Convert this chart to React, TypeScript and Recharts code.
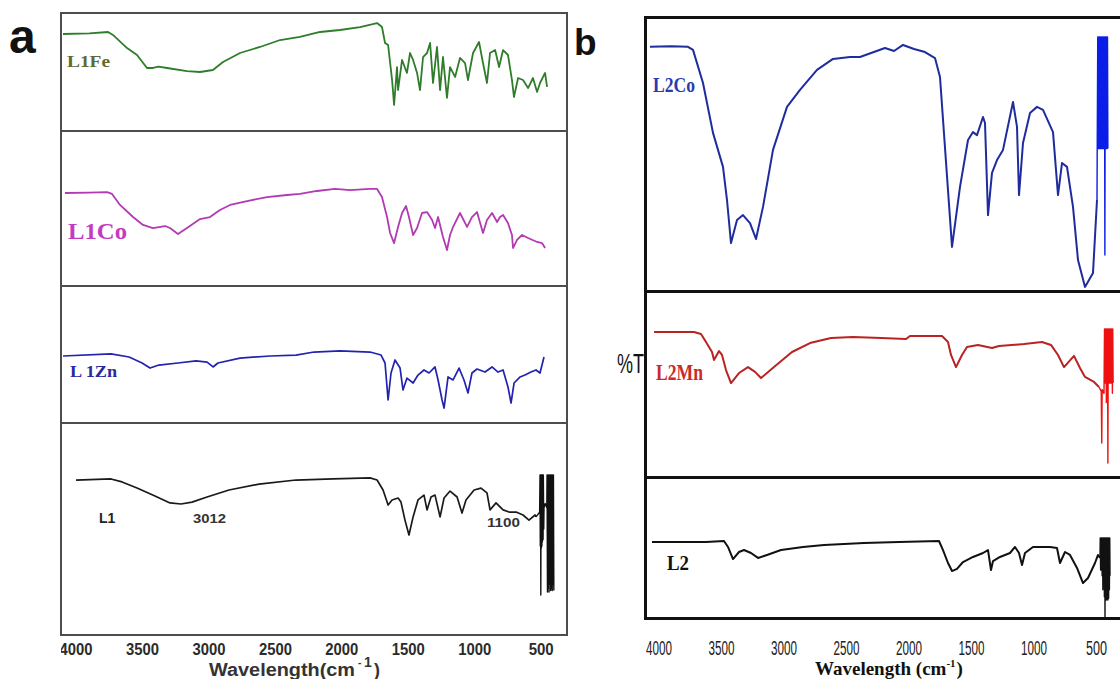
import { LineChart, Line, XAxis, YAxis } from 'recharts';

type Pt = [number, number];

// wavenumber (cm-1), transmittance (relative, 0-100 per sub-panel)
const L1FE: Pt[] = [[4098,82.2],[3900,82.8],[3759,83.9],[3722,81.4],[3616,70.3],[3541,64.4],[3466,53.4],[3421,53.4],[3380,54.5],[3315,53.4],[3165,50.8],[3067,50.0],[2970,51.7],[2894,58.5],[2766,66.1],[2616,71.2],[2465,77.1],[2315,79.7],[2164,83.9],[2014,85.6],[1863,88.1],[1735,91.5],[1698,88.1],[1675,74.6],[1652,72.9],[1622,43.2],[1607,22.0],[1585,54.2],[1577,34.7],[1547,60.2],[1510,49.2],[1487,66.1],[1464,60.2],[1434,49.2],[1412,34.7],[1389,62.7],[1359,66.1],[1336,74.6],[1314,40.7],[1284,71.2],[1261,34.7],[1239,62.7],[1209,28.0],[1186,54.2],[1148,45.8],[1111,61.9],[1073,57.6],[1051,43.2],[1013,66.1],[968,75.4],[938,57.6],[908,40.7],[885,66.1],[847,68.6],[817,54.2],[787,68.6],[750,64.4],[720,43.2],[705,28.8],[674,44.9],[637,43.2],[599,36.4],[562,44.9],[531,33.1],[509,40.7],[471,49.2],[456,37.3]];

const L1CO: Pt[] = [[4083,60.0],[3900,60.3],[3767,60.6],[3729,59.4],[3669,52.3],[3571,44.5],[3496,39.4],[3421,37.4],[3330,38.7],[3293,37.4],[3233,33.5],[3165,37.4],[3067,43.2],[2992,44.5],[2917,49.0],[2841,52.3],[2713,54.8],[2563,57.4],[2412,58.7],[2315,59.4],[2187,61.3],[2051,62.6],[1938,61.9],[1788,62.6],[1735,62.6],[1698,57.4],[1660,44.5],[1637,34.2],[1607,27.7],[1577,38.1],[1547,47.1],[1517,51.6],[1495,44.5],[1464,32.9],[1434,37.4],[1397,47.1],[1359,47.7],[1321,42.6],[1299,37.4],[1276,44.5],[1239,31.6],[1209,23.2],[1186,32.9],[1163,38.1],[1111,47.1],[1058,38.1],[1021,44.5],[983,47.7],[938,34.2],[908,42.6],[870,47.1],[832,41.3],[810,44.5],[787,45.8],[750,40.6],[720,32.9],[712,24.5],[682,29.7],[644,32.9],[599,31.0],[531,28.4],[494,27.7],[471,24.5]];

const L1ZN: Pt[] = [[4098,48.9],[3737,50.4],[3601,48.2],[3503,43.8],[3443,40.1],[3376,42.3],[3233,43.8],[3097,45.3],[3014,44.5],[2969,40.9],[2932,43.8],[2766,47.4],[2540,48.9],[2345,49.6],[2209,51.8],[2014,52.6],[1788,51.8],[1705,49.6],[1675,43.8],[1652,16.8],[1630,36.5],[1600,46.0],[1562,40.1],[1540,24.1],[1510,32.8],[1464,29.2],[1427,35.0],[1382,38.7],[1344,36.5],[1299,40.9],[1276,31.4],[1246,16.8],[1231,10.9],[1201,33.6],[1163,31.4],[1118,40.1],[1081,31.4],[1051,21.9],[1021,36.5],[983,39.4],[923,37.2],[870,40.9],[825,37.2],[787,38.7],[750,26.3],[727,14.6],[704,29.2],[659,33.6],[622,35.0],[577,37.2],[539,38.7],[509,36.5],[479,48.2]];

const L1: Pt[] = [[4000,73.1],[3737,73.6],[3654,72.2],[3541,69.3],[3406,65.6],[3293,62.3],[3210,61.8],[3127,62.7],[3014,65.1],[2849,68.4],[2623,71.2],[2345,73.1],[2066,73.6],[1788,74.1],[1735,73.1],[1690,68.4],[1652,61.3],[1622,63.7],[1577,64.6],[1555,62.7],[1525,54.2],[1495,47.2],[1464,55.7],[1427,63.7],[1382,66.0],[1359,59.0],[1329,65.1],[1299,66.0],[1261,55.7],[1231,64.6],[1186,67.9],[1133,65.1],[1096,57.5],[1066,63.7],[1005,68.4],[953,69.3],[908,67.0],[885,59.0],[840,62.3],[787,59.0],[742,58.0],[689,58.0],[637,56.6],[592,54.2],[546,56.6],[539,55.7]];
const L1_BARS: Pt[] = [[539,55.7],[512,58],[509,75.5],[507,42],[505,75.5],[503,18.9],[501,75.5],[499,41],[497,75.5],[495,42],[493,75.5],[491,44],[489,75.5],[486,45],[484,75.5],[481,50],[479,60],[470,62],[458,60],[456,75.5],[453,20.3],[450,75.5],[447,22],[444,75.5],[441,20.3],[438,75.5],[435,24],[432,75.5],[429,21],[426,75.5],[423,22],[420,75.5],[417,21],[414,75.5],[411,24],[408,75.5],[405,21]];

const L2CO: Pt[] = [[4072,89.1],[3900,89.3],[3768,89.1],[3728,88.0],[3648,75.9],[3568,57.7],[3488,45.3],[3456,33.2],[3424,17.5],[3376,25.9],[3328,27.7],[3272,24.8],[3224,19.0],[3168,30.7],[3088,51.5],[2976,67.2],[2872,73.4],[2736,80.7],[2608,84.7],[2472,85.4],[2392,85.4],[2192,88.7],[2120,87.6],[2048,89.8],[1960,88.3],[1872,87.2],[1792,85.0],[1752,78.1],[1656,16.1],[1592,38.0],[1528,55.1],[1488,58.0],[1456,56.9],[1408,63.5],[1392,61.3],[1368,27.7],[1336,43.1],[1296,47.8],[1248,51.5],[1168,69.0],[1136,59.9],[1120,35.0],[1088,54.0],[1032,65.0],[976,67.2],[928,66.1],[848,58.0],[808,35.0],[776,46.7],[736,45.3],[688,30.7],[648,11.3],[592,1.5],[528,6.6],[496,33.2]];
const L2CO_BARS: Pt[] = [[496,33.2],[494,55],[490,92.7],[487,52],[484,92.7],[481,52],[478,92.7],[475,52],[472,92.7],[469,52],[466,92.7],[463,52],[460,92.7],[457,52],[454,92.7],[451,52],[448,92.7],[445,52],[442,92.7],[439,52],[436,92.7],[433,13.1],[430,92.7],[427,52],[424,92.7],[421,52],[418,92.7],[415,52],[412,92.7],[409,52]];

const L2MN: Pt[] = [[4040,78.0],[3720,78.0],[3664,76.9],[3624,72.6],[3576,67.2],[3560,62.9],[3520,67.7],[3496,65.6],[3464,57.5],[3424,50.5],[3360,55.9],[3288,59.1],[3232,56.5],[3184,53.2],[3080,59.1],[2936,67.2],[2792,72.0],[2624,74.7],[2448,75.3],[2224,74.7],[2024,74.2],[1992,75.8],[1736,75.8],[1688,72.6],[1664,65.6],[1624,59.1],[1576,65.6],[1536,69.9],[1448,71.0],[1336,69.4],[1280,70.4],[1080,71.5],[936,72.6],[864,71.0],[808,65.6],[760,59.1],[680,65.1],[632,58.6],[592,53.8],[520,51.1],[480,48.4]];
const L2MN_BARS: Pt[] = [[480,48.4],[462,46],[458,18.3],[455,47],[448,46],[440,45],[436,79.6],[433,50.5],[430,79.6],[427,50.5],[424,79.6],[421,40],[418,79.6],[415,50.5],[412,79.6],[409,7.5],[406,79.6],[403,50.5],[400,79.6],[397,50.5],[394,79.6],[391,50.5],[388,79.6],[385,50.5],[382,79.6],[379,50.5],[376,79.6],[373,45],[370,79.6],[367,50.5]];

const L2: Pt[] = [[4056,53.9],[3624,53.9],[3480,54.6],[3448,50.4],[3408,41.8],[3360,46.8],[3320,48.2],[3264,46.1],[3208,42.6],[3136,44.7],[3024,48.2],[2848,50.4],[2680,51.8],[2360,53.2],[2080,53.9],[1760,54.6],[1728,48.2],[1688,39.0],[1656,33.3],[1616,34.8],[1568,39.7],[1488,43.3],[1408,46.1],[1368,48.2],[1344,34.0],[1328,40.4],[1272,43.3],[1192,46.1],[1152,50.4],[1120,46.1],[1096,37.6],[1072,46.1],[1008,50.4],[872,50.4],[816,49.6],[792,39.0],[752,46.8],[712,44.7],[656,35.5],[608,24.8],[568,28.4],[512,39.0],[488,44.7],[472,42.6]];
const L2_BARS: Pt[] = [[472,42.6],[470,56.7],[467,34],[464,56.7],[461,34],[458,56.7],[455,30],[452,56.7],[449,20],[446,56.7],[443,25],[440,56.7],[437,15],[434,56.7],[432,0.7],[430,56.7],[427,13],[424,56.7],[421,12.8],[418,56.7],[415,13],[412,56.7],[409,12.8],[406,56.7],[403,14],[400,56.7],[397,20],[394,56.7],[392,30]];

const TICKS = [4000, 3500, 3000, 2500, 2000, 1500, 1000, 500];
const DOMAIN_A: [number, number] = [306, 4113];
const DOMAIN_B: [number, number] = [312, 4112];

const SANS = '"Liberation Sans", Arial, sans-serif';
const SERIF = '"Liberation Serif", "Times New Roman", serif';

const toData = (arr: Pt[]) => arr.map(([w, t]) => ({ w, t }));

type SeriesDef = { data: Pt[]; color: string; width?: number };

// tick label drawn at a fixed offset under the plot bottom (baseY, chart-local)
const makeTickA = (baseY: number) => (props: any) => {
  const { x, payload } = props;
  const s = String(payload.value);
  return (
    <text x={x} y={baseY + 20} textAnchor="middle" fontFamily={SANS} fontSize={16} fontWeight="bold"
      fill="#2b2b2b" textLength={s.length === 4 ? 33 : 25} lengthAdjust="spacingAndGlyphs">{s}</text>
  );
};

const makeTickB = (baseY: number) => (props: any) => {
  const { x, payload } = props;
  const s = String(payload.value);
  return (
    <text x={x} y={baseY + 37} textAnchor="middle" fontFamily={SANS} fontSize={20}
      fill="#222" textLength={s.length === 4 ? 26 : 21} lengthAdjust="spacingAndGlyphs">{s}</text>
  );
};

function Spectrum({ left, top, width, height, domain, series, axis }: {
  left: number; top: number; width: number; height: number; domain: [number, number];
  series: SeriesDef[]; axis?: 'a' | 'b';
}) {
  const axisH = axis === 'a' ? 30 : axis === 'b' ? 46 : 0;
  const tick = axis === 'a' ? makeTickA(height) : makeTickB(height);
  return (
    <div style={{ position: 'absolute', left, top }}>
      <LineChart width={width} height={height + axisH} margin={{ top: 0, right: 0, bottom: 0, left: 0 }}>
        <XAxis type="number" dataKey="w" domain={domain} reversed allowDataOverflow
          hide={!axis} ticks={TICKS} axisLine={false} tickLine={false} tickSize={0} tickMargin={0}
          height={axisH || 1} interval={0} tick={tick} />
        <YAxis type="number" domain={[0, 100]} hide />
        {series.map((s, i) => (
          <Line key={i} data={toData(s.data)} dataKey="t" type="linear" stroke={s.color}
            strokeWidth={s.width ?? 1.6} dot={false} isAnimationActive={false} strokeLinejoin="round" />
        ))}
      </LineChart>
    </div>
  );
}

const hLine = (x1: number, x2: number, y: number, c: string, w: number) => (
  <div style={{ position: 'absolute', left: x1, top: y - w / 2, width: x2 - x1, height: w, background: c }} />
);
const vLine = (x: number, y1: number, y2: number, c: string, w: number) => (
  <div style={{ position: 'absolute', left: x - w / 2, top: y1, width: w, height: y2 - y1, background: c }} />
);

export default function App() {
  const ga = '#4d4d4d';
  const gb = '#111';
  return (
    <div style={{ position: 'absolute', left: 0, top: 0, width: 1120, height: 679, background: '#fff', overflow: 'hidden' }}>
      {/* panel a */}
      <Spectrum left={61} top={13} width={506} height={118} domain={DOMAIN_A}
        series={[{ data: L1FE, color: '#2f7d2a', width: 1.8 }]} />
      <Spectrum left={61} top={131} width={506} height={155} domain={DOMAIN_A}
        series={[{ data: L1CO, color: '#b23ab2', width: 1.8 }]} />
      <Spectrum left={61} top={286} width={506} height={137} domain={DOMAIN_A}
        series={[{ data: L1ZN, color: '#2323b0', width: 1.7 }]} />
      <Spectrum left={61} top={423} width={506} height={212} domain={DOMAIN_A} axis="a"
        series={[{ data: L1, color: '#1a1a1a', width: 1.7 }, { data: L1_BARS, color: '#111', width: 1.4 }]} />

      {/* panel b */}
      <Spectrum left={645} top={17} width={475} height={274} domain={DOMAIN_B}
        series={[{ data: L2CO, color: '#1f2c9e', width: 2 }, { data: L2CO_BARS, color: '#0b1ee8', width: 1.4 }]} />
      <Spectrum left={645} top={291} width={475} height={186} domain={DOMAIN_B}
        series={[{ data: L2MN, color: '#b92323', width: 2 }, { data: L2MN_BARS, color: '#ee1111', width: 1.4 }]} />
      <Spectrum left={645} top={477} width={475} height={141} domain={DOMAIN_B} axis="b"
        series={[{ data: L2, color: '#111', width: 2 }, { data: L2_BARS, color: '#111', width: 1.4 }]} />

      {/* frames */}
      {vLine(61, 12, 636, ga, 2)}
      {vLine(567, 12, 636, ga, 2)}
      {hLine(60, 568, 13, ga, 2)}
      {hLine(60, 568, 131, ga, 2)}
      {hLine(60, 568, 286, ga, 2)}
      {hLine(60, 568, 423, ga, 2)}
      {hLine(60, 568, 635, ga, 2)}
      {vLine(645, 16, 619, gb, 3)}
      {hLine(644, 1120, 17, gb, 3)}
      {hLine(644, 1120, 291, gb, 3)}
      {hLine(644, 1120, 477, gb, 3)}
      {hLine(644, 1120, 618, gb, 3)}

      <svg width={1120} height={679} style={{ position: 'absolute', left: 0, top: 0, pointerEvents: 'none' }}>
        <text x={9} y={53} fontFamily={SANS} fontSize={48} fontWeight="bold" fill="#111">a</text>
        <text x={574} y={55} fontFamily={SANS} fontSize={37} fontWeight="bold" fill="#111">b</text>

        <text x={67} y={67} fontFamily={SERIF} fontSize={17} fontWeight="bold" fill="#5e6a30" textLength={43} lengthAdjust="spacingAndGlyphs">L1Fe</text>
        <text x={68} y={239} fontFamily={SERIF} fontSize={23} fontWeight="bold" fill="#c23cc2" textLength={59} lengthAdjust="spacingAndGlyphs">L1Co</text>
        <text x={70} y={377} fontFamily={SERIF} fontSize={16} fontWeight="bold" fill="#2a2aa0" textLength={47} lengthAdjust="spacingAndGlyphs">L 1Zn</text>
        <text x={99} y={523} fontFamily={SANS} fontSize={14} fontWeight="bold" fill="#222">L1</text>
        <text x={193} y={523} fontFamily={SANS} fontSize={13} fontWeight="bold" fill="#333" textLength={33} lengthAdjust="spacingAndGlyphs">3012</text>
        <text x={487} y={527} fontFamily={SANS} fontSize={13} fontWeight="bold" fill="#333" textLength={33} lengthAdjust="spacingAndGlyphs">1100</text>

        <text x={653} y={92} fontFamily={SERIF} fontSize={22} fontWeight="bold" fill="#2a3bb0" textLength={42} lengthAdjust="spacingAndGlyphs">L2Co</text>
        <text x={656} y={380} fontFamily={SERIF} fontSize={23} fontWeight="bold" fill="#cc2a2a" textLength={47} lengthAdjust="spacingAndGlyphs">L2Mn</text>
        <text x={667} y={570} fontFamily={SERIF} fontSize={22} fontWeight="bold" fill="#111" textLength={22} lengthAdjust="spacingAndGlyphs">L2</text>
        <text x={617} y={373} fontFamily={SANS} fontSize={28} fill="#111" textLength={27} lengthAdjust="spacingAndGlyphs">%T</text>

        {/* panel a axis title with superscript */}
        <text x={209} y={676} fontFamily={SANS} fontSize={18} fontWeight="bold" fill="#333" textLength={146} lengthAdjust="spacingAndGlyphs">Wavelength(cm</text>
        <text x={358} y={666} fontFamily={SANS} fontSize={10} fontWeight="bold" fill="#333">-</text>
        <text x={364} y={667} fontFamily={SANS} fontSize={14} fontWeight="bold" fill="#333">1</text>
        <text x={374} y={676} fontFamily={SANS} fontSize={18} fontWeight="bold" fill="#333">)</text>

        <text x={815} y={675} fontFamily={SERIF} fontSize={19} fontWeight="bold" fill="#111">
          Wavelength (cm<tspan fontSize={11} dy={-8}>-1</tspan><tspan fontSize={19} dx={1} dy={8}>)</tspan>
        </text>
      </svg>
    </div>
  );
}
